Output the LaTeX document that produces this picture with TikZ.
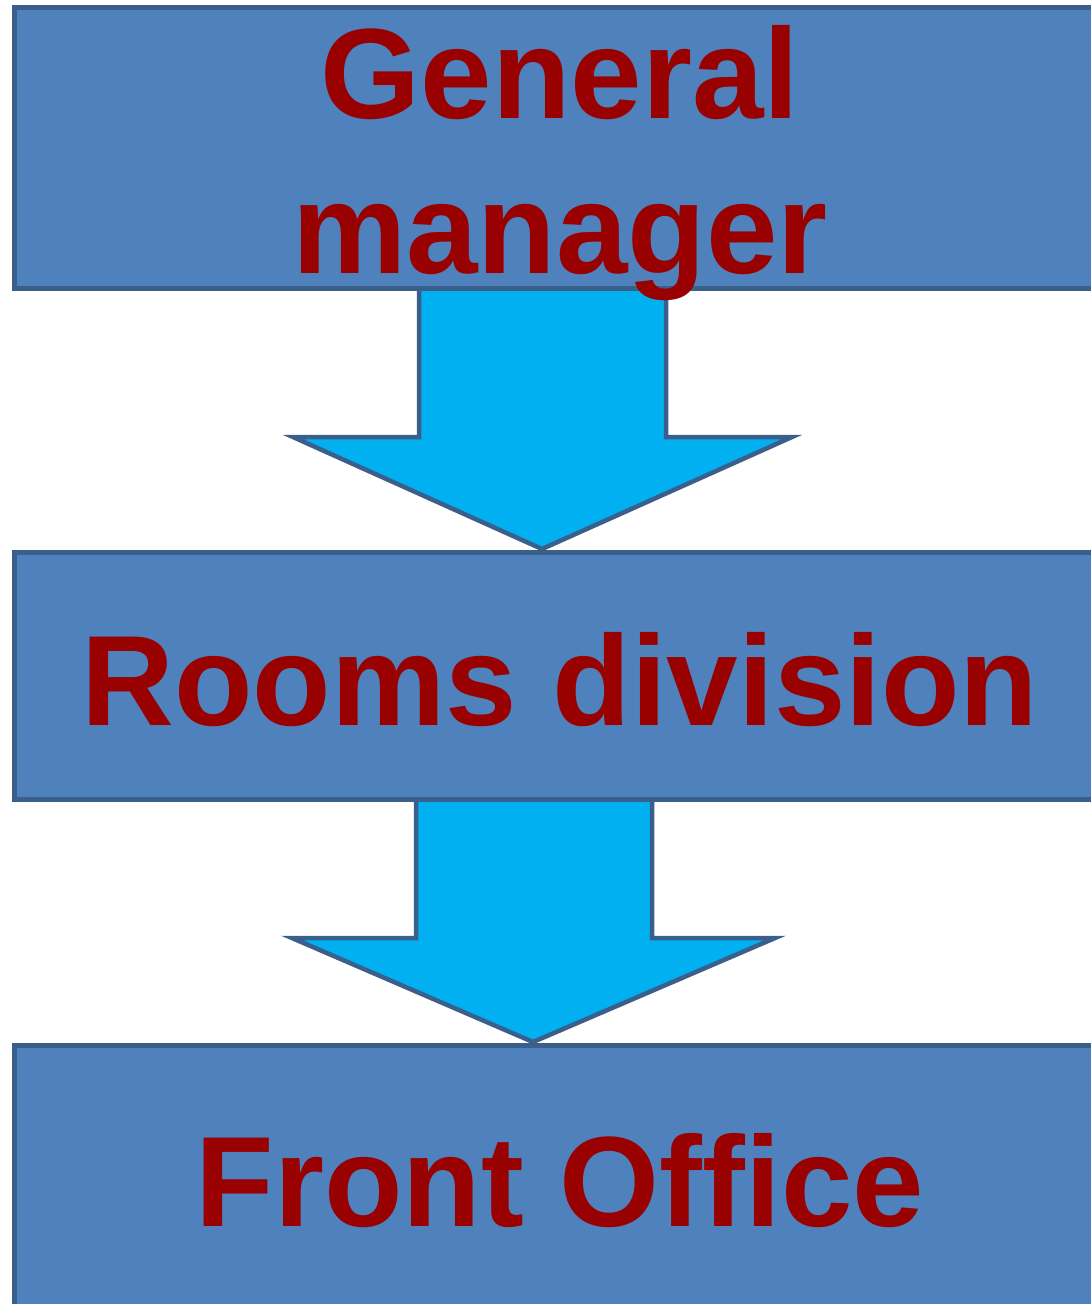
\documentclass[tikz,border=0pt]{standalone}
\usepackage{fontspec}
\setmainfont{Liberation Sans}
\definecolor{boxfill}{HTML}{4F81BD}
\definecolor{boxline}{HTML}{3A5F8B}
\definecolor{arrowfill}{HTML}{00B0F0}
\definecolor{txtred}{HTML}{990000}
\tikzset{
  orgbox/.style={draw=boxline, fill=boxfill, line width=5pt, rectangle, inner sep=0pt},
  bigarrow/.style={draw=boxline, fill=arrowfill, line width=4.5pt, line join=miter},
  lbl/.style={text=txtred, font=\fontsize{128.5pt}{153pt}\selectfont\bfseries, inner sep=0pt, anchor=base}
}
\begin{document}
\begin{tikzpicture}[x=1pt,y=-1pt]
\useasboundingbox (0,0) rectangle (1091,1304);
\clip (0,0) rectangle (1091,1304);
% arrows (behind boxes)
\draw[bigarrow] (419,288) -- (666,288) -- (666,437) -- (792,437) -- (542,549) -- (293,437) -- (419,437) -- cycle;
\draw[bigarrow] (416,799) -- (652,799) -- (652,938) -- (775,938) -- (533,1042) -- (292,938) -- (416,938) -- cycle;
% boxes
\node[orgbox, minimum width=1092pt, minimum height=280.5pt] (gm) at (560,147.75) {};
\node[orgbox, minimum width=1092pt, minimum height=246.5pt] (rd) at (560,675.75) {};
\node[orgbox, minimum width=1092pt, minimum height=300pt] (fo) at (560,1195.5) {};
% labels
\node[lbl] (gm1) at (560,118) {General};
\node[lbl] (gm2) at (560,273) {manager};
\node[lbl] (rdl) at (560,725) {Rooms division};
\node[lbl] (fol) at (560,1226) {Front Office};
\end{tikzpicture}
\end{document}
